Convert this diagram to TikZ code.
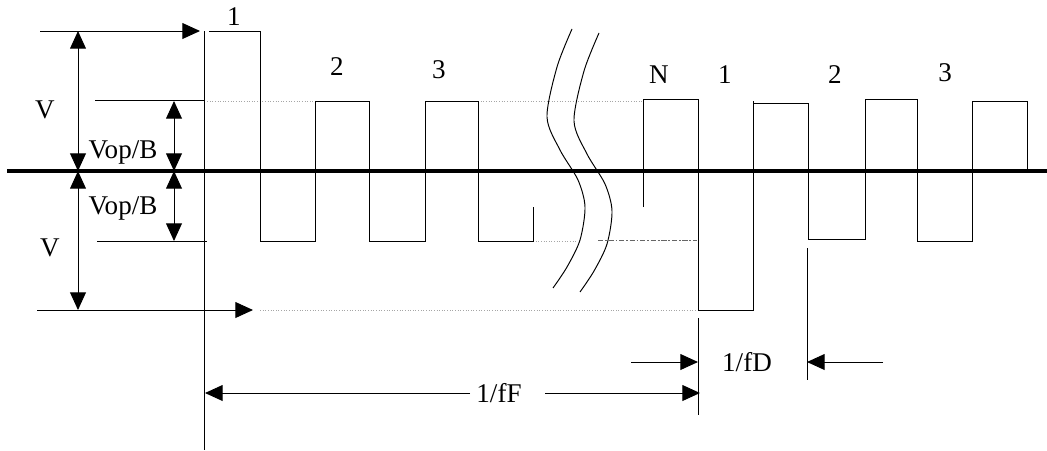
\documentclass[tikz,border=0pt]{standalone}
\usepackage{fontspec}
\setmainfont{Liberation Serif}
\usepackage{tikz}
\usetikzlibrary{arrows.meta}

\begin{document}
\begin{tikzpicture}[x=0.02cm, y=-0.02cm, >={Triangle[length=10pt,width=9pt]}, line width=0.55pt,
		font=\fontsize{15.4}{18}\selectfont,
		lvl/.style={gray!70, densely dotted, line width=0.5pt},
		axis/.style={line width=2.4pt}]
				\useasboundingbox (0,0) rectangle (1047,450);

				\coordinate (Vt)  at (78,31);
				\coordinate (Vm)  at (78,171);
				\coordinate (Vb)  at (78,310);
				\coordinate (Ot)  at (174,101);
				\coordinate (Om)  at (174,171);
				\coordinate (Ob)  at (174,241);
				\coordinate (Ft)  at (40,31);
				\coordinate (Fh)  at (200,31);
				\coordinate (Lt)  at (37,310);
				\coordinate (Lh)  at (253,310);
				\coordinate (FL)  at (205,393);
				\coordinate (FR0) at (545,393);
				\coordinate (FR)  at (700,393);
				\coordinate (DL0) at (631,362);
				\coordinate (DL)  at (698,362);
				\coordinate (DR0) at (883,362);
				\coordinate (DR)  at (807,362);

				\node (V1) at (45,110) {V};
				\node (V2) at (50,248) {V};
				\node (B1) at (123,152) {Vop/B};
				\node (B2) at (123,208) {Vop/B};
				\node (p1)  at (234,17) {1};
				\node (p2)  at (337,67) {2};
				\node (p3)  at (439,70) {3};
				\node (pN)  at (659,75) {N};
				\node (q1)  at (725,75) {1};
				\node (q2)  at (835,75) {2};
				\node (q3)  at (945,73) {3};
				\node (fD)  at (747,362) {1/fD};
				\node (fF)  at (499,393) {1/fF};

				\draw[lvl] (207,101) -- (313,101) (478,101) -- (643,101)
						(533,241) -- (577,241) (260,310) -- (697,310);
				\draw[gray!80!black, dash pattern=on 3pt off 1pt on 1pt off 1pt, line width=0.5pt] (598,240) -- (697,240);
				\draw (95,100) -- (204,100) (97,241) -- (207,241);

				\draw[axis] (7,171) -- (1047,171);

				\draw (204,31) -- (204,450);
				\draw (209,31) -- (260,31) -- (260,241) -- (315,241) -- (315,101) -- (369,101)
						-- (369,241) -- (425,241) -- (425,101) -- (478,101) -- (478,241)
						-- (533,241) -- (533,207);
				\draw (643,207) -- (643,99) -- (698,99) -- (698,310) -- (753,310) -- (753,101)
						(753,103) -- (808,103) -- (808,239) -- (865,239) -- (865,99) -- (917,99)
						-- (917,241) -- (972,241) -- (972,101) -- (1027,101) -- (1027,171);
				\draw (698,318) -- (698,415) (807,248) -- (807,380);

				\draw plot[smooth] coordinates {(572,29) (557,67) (547,117) (560,150) (578,180)
						(585,207) (580,240) (567,267) (553,288)};
				\draw plot[smooth] coordinates {(599,33) (584,71) (574,121) (587,154) (605,184)
						(612,211) (607,244) (594,271) (580,292)};

				\draw[<->] (Vt) -- (Vm);
				\draw[<->] (Vm) -- (Vb);
				\draw[<->] (Ot) -- (Om);
				\draw[<->] (Om) -- (Ob);
				\draw[->] (Ft) -- (Fh);
				\draw[->] (Lt) -- (Lh);
				\draw[->] (fF.west) -- (FL);
				\draw[->] (FR0) -- (FR);
				\draw[->] (DL0) -- (DL);
				\draw[->] (DR0) -- (DR);

\end{tikzpicture}
\end{document}
